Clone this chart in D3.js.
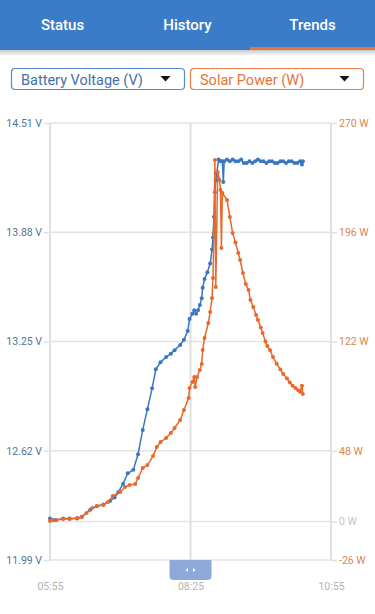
<!DOCTYPE html>
<html>
<head>
<meta charset="utf-8">
<script src="https://cdn.jsdelivr.net/npm/d3@7"></script>
<style>
  body { margin: 0; background: #fff; font-family: Roboto, "Noto Sans", sans-serif; }
  svg { display: block; }
</style>
</head>
<body>
<svg id="chart" width="375" height="614"></svg>
<script>
// tabs and selectors
var tabs = ["Status", "History", "Trends"];
var selectors = ["Battery Voltage (V)", "Solar Power (W)"];

// axis ticks
var voltTicks = [14.51, 13.88, 13.25, 12.62, 11.99];
var powerTicks = [270, 196, 122, 48, 0, -26];
var timeTicks = ["05:55", "08:25", "10:55"];

// battery voltage series
var voltTimes = ["05:55","06:00","06:09","06:16","06:24","06:29","06:38","06:45","06:52","06:59",
  "07:04","07:08","07:13","07:18","07:24","07:29","07:34","07:39","07:44","07:48",
  "07:53","07:59","08:04","08:08","08:14","08:18","08:22","08:24","08:27","08:29",
  "08:31","08:33","08:35","08:37","08:38","08:40","08:43","08:46","08:48","08:49",
  "08:50","08:51","08:52","08:53","08:55","08:57","08:59","09:00","09:01","09:04",
  "09:07","09:10","09:13","09:16","09:19","09:22","09:25","09:28","09:31","09:34",
  "09:37","09:40","09:43","09:46","09:49","09:52","09:55","09:58","10:01","10:04",
  "10:07","10:10","10:13","10:16","10:19","10:22","10:24","10:25"];
var voltValues = [12.23,12.22,12.23,12.23,12.23,12.24,12.28,12.30,12.31,12.33,
  12.35,12.38,12.43,12.49,12.51,12.60,12.74,12.86,12.98,13.09,
  13.13,13.16,13.18,13.20,13.23,13.26,13.31,13.38,13.41,13.43,
  13.41,13.43,13.46,13.50,13.56,13.61,13.65,13.70,13.78,13.85,
  13.97,14.11,14.18,14.22,14.30,14.29,14.29,14.17,14.29,14.30,
  14.29,14.30,14.29,14.29,14.30,14.28,14.28,14.29,14.28,14.29,
  14.30,14.29,14.29,14.28,14.29,14.29,14.28,14.28,14.29,14.29,
  14.28,14.29,14.29,14.28,14.28,14.29,14.27,14.29];

// solar power series
var powerTimes = ["05:55","05:57","06:02","06:09","06:16","06:24","06:29","06:34","06:40","06:45",
  "06:52","06:57","07:02","07:10","07:15","07:20","07:26","07:29","07:34","07:39",
  "07:45","07:49","07:53","07:59","08:04","08:08","08:14","08:18","08:23","08:24",
  "08:27","08:29","08:30","08:32","08:35","08:37","08:38","08:40","08:44","08:46",
  "08:48","08:49","08:50","08:51","08:52","08:54","08:56","08:57","08:58","08:59",
  "09:04","09:07","09:10","09:13","09:16","09:18","09:21","09:24","09:27","09:29",
  "09:32","09:35","09:37","09:40","09:42","09:45","09:47","09:50","09:53","09:57",
  "10:01","10:04","10:08","10:11","10:14","10:17","10:20","10:22","10:24","10:25"];
var powerValues = [0.5,1.1,1.1,1.8,1.8,2.4,3.1,5.8,9.2,10.6,
  11.3,13.3,17.3,20.1,23.4,24.8,25.5,29.5,36.3,38.3,
  44.4,50.5,53.9,56.6,60.0,63.4,68.8,75.6,83.7,90.5,
  94.6,97.9,91.2,97.9,102.7,106.8,116.2,124.4,134.5,142.0,
  151.5,165.0,195.5,244.9,158.9,236.8,231.4,224.6,185.3,222.6,
  217.8,206.3,195.5,189.0,181.9,177.2,168.4,161.0,156.9,150.1,
  145.4,140.0,136.6,131.5,127.7,122.0,118.9,116.0,111.5,107.0,
  103.0,100.0,97.0,94.2,92.0,90.5,89.0,88.0,92.0,86.5];

var blue = "#3a76c2", orange = "#e8692b";
var parseTime = d3.timeParse("%H:%M");
var svg = d3.select("#chart");

// ---- header ----
var defs = svg.append("defs");
var grad = defs.append("linearGradient").attr("id", "shadow")
    .attr("x1", 0).attr("y1", 0).attr("x2", 0).attr("y2", 1);
grad.append("stop").attr("offset", 0).attr("stop-color", "#000").attr("stop-opacity", 0.22);
grad.append("stop").attr("offset", 1).attr("stop-color", "#000").attr("stop-opacity", 0);

svg.append("rect").attr("x", 0).attr("y", 50).attr("width", 375).attr("height", 6)
    .attr("fill", "url(#shadow)");
svg.append("rect").attr("x", 0).attr("y", 0).attr("width", 375).attr("height", 50)
    .attr("fill", "#3b7cc8");
svg.append("rect").attr("x", 250).attr("y", 47).attr("width", 125).attr("height", 3)
    .attr("fill", "#e8743b");
svg.selectAll(".tab").data(tabs).enter().append("text")
    .attr("class", "tab")
    .attr("x", function(d, i) { return 62.5 + i * 125; })
    .attr("y", 30)
    .attr("text-anchor", "middle")
    .attr("fill", "#fff")
    .attr("font-size", 15)
    .attr("font-weight", 500)
    .text(function(d) { return d; });

// ---- selectors ----
var selColors = [blue, orange];
var selTextColors = ["#4372ad", "#e07538"];
var sel = svg.selectAll(".sel").data(selectors).enter().append("g")
    .attr("class", "sel")
    .attr("transform", function(d, i) { return "translate(" + (11.5 + i * 179) + ",68.5)"; });
sel.append("rect")
    .attr("width", 173).attr("height", 21).attr("rx", 3.5)
    .attr("fill", "#fff")
    .attr("stroke", function(d, i) { return selColors[i]; })
    .attr("stroke-width", 1.2)
    .attr("stroke-opacity", 0.85);
sel.append("text")
    .attr("x", 9.5).attr("y", 16)
    .attr("font-size", 14.5)
    .attr("fill", function(d, i) { return selTextColors[i]; })
    .text(function(d) { return d; });
sel.append("path")
    .attr("d", "M149,7.5 L159,7.5 L154,13 Z")
    .attr("fill", "#111");

// ---- chart ----
var margin = {left: 50, right: 44, top: 123, bottom: 54};
var width = 375 - margin.left - margin.right,
    height = 614 - margin.top - margin.bottom;

var x = d3.scaleTime()
    .domain([parseTime("05:55"), parseTime("10:55")])
    .range([0, width]);
var yV = d3.scaleLinear().domain([11.99, 14.51]).range([height, 0]);
var yP = d3.scaleLinear().domain([-26, 270]).range([height, 0]);

var g = svg.append("g")
    .attr("transform", "translate(" + margin.left + "," + margin.top + ")");

// horizontal grid
g.selectAll(".hgrid").data(voltTicks).enter().append("line")
    .attr("x1", 0).attr("x2", width)
    .attr("y1", function(d) { return yV(d); })
    .attr("y2", function(d) { return yV(d); })
    .attr("stroke", "#e3e3e3").attr("stroke-width", 1.5);
g.append("line")
    .attr("x1", 0).attr("x2", width)
    .attr("y1", yP(0)).attr("y2", yP(0))
    .attr("stroke", "#e3e3e3").attr("stroke-width", 1.5);

// vertical grid
g.selectAll(".vgrid").data(timeTicks).enter().append("line")
    .attr("x1", function(d) { return x(parseTime(d)); })
    .attr("x2", function(d) { return x(parseTime(d)); })
    .attr("y1", 0).attr("y2", height)
    .attr("stroke", "#e0e0e0").attr("stroke-width", 2);

// left axis
var leftAxis = g.append("g")
    .call(d3.axisLeft(yV).tickValues(voltTicks).tickSize(6).tickPadding(2)
        .tickFormat(function(d) { return d.toFixed(2) + " V"; }));
leftAxis.select(".domain").remove();
leftAxis.selectAll("line").attr("stroke", "#e0e0e0").attr("stroke-width", 1.5);
leftAxis.selectAll("text").attr("fill", "#52729a").attr("font-size", 10.5)
    .attr("font-family", "Roboto, sans-serif");

// right axis
var rightAxis = g.append("g")
    .attr("transform", "translate(" + width + ",0)")
    .call(d3.axisRight(yP).tickValues(powerTicks).tickSize(6).tickPadding(2)
        .tickFormat(function(d) { return d + " W"; }));
rightAxis.select(".domain").remove();
rightAxis.selectAll("line").attr("stroke", "#e0e0e0").attr("stroke-width", 1.5);
rightAxis.selectAll("text")
    .attr("fill", function(d) { return d === 0 ? "#c2c2c2" : "#d98552"; })
    .attr("font-size", 10.5)
    .attr("font-family", "Roboto, sans-serif");

// bottom axis
var bottomAxis = g.append("g")
    .attr("transform", "translate(0," + height + ")")
    .call(d3.axisBottom(x).tickValues(timeTicks.map(parseTime)).tickSize(0).tickPadding(23)
        .tickFormat(d3.timeFormat("%H:%M")));
bottomAxis.select(".domain").remove();
bottomAxis.selectAll("text").attr("fill", "#b3b3b3").attr("font-size", 10.5)
    .attr("font-family", "Roboto, sans-serif");

// series
var voltData = voltTimes.map(function(t, i) { return {t: parseTime(t), v: voltValues[i]}; });
var powerData = powerTimes.map(function(t, i) { return {t: parseTime(t), v: powerValues[i]}; });

var voltLine = d3.line()
    .x(function(d) { return x(d.t); })
    .y(function(d) { return yV(d.v); });
var powerLine = d3.line()
    .x(function(d) { return x(d.t); })
    .y(function(d) { return yP(d.v); });

g.append("path").datum(voltData)
    .attr("d", voltLine)
    .attr("fill", "none").attr("stroke", blue).attr("stroke-width", 1.5);
g.selectAll(".vdot").data(voltData).enter().append("circle")
    .attr("cx", function(d) { return x(d.t); })
    .attr("cy", function(d) { return yV(d.v); })
    .attr("r", 2).attr("fill", blue);

g.append("path").datum(powerData)
    .attr("d", powerLine)
    .attr("fill", "none").attr("stroke", orange).attr("stroke-width", 1.5);
g.selectAll(".pdot").data(powerData).enter().append("circle")
    .attr("cx", function(d) { return x(d.t); })
    .attr("cy", function(d) { return yP(d.v); })
    .attr("r", 2).attr("fill", orange);

// scroll handle under the 08:25 line
var hx = x(parseTime("08:25"));
var handle = g.append("g").attr("transform", "translate(" + hx + "," + height + ")");
handle.append("path")
    .attr("d", "M-21,0 H21 V16 Q21,20 17,20 H-17 Q-21,20 -21,16 Z")
    .attr("fill", "#8ea9d8");
handle.append("path").attr("d", "M-2.5,8 L-5,10 L-2.5,12 Z").attr("fill", "#fff");
handle.append("path").attr("d", "M2.5,8 L5,10 L2.5,12 Z").attr("fill", "#fff");
</script>
</body>
</html>
